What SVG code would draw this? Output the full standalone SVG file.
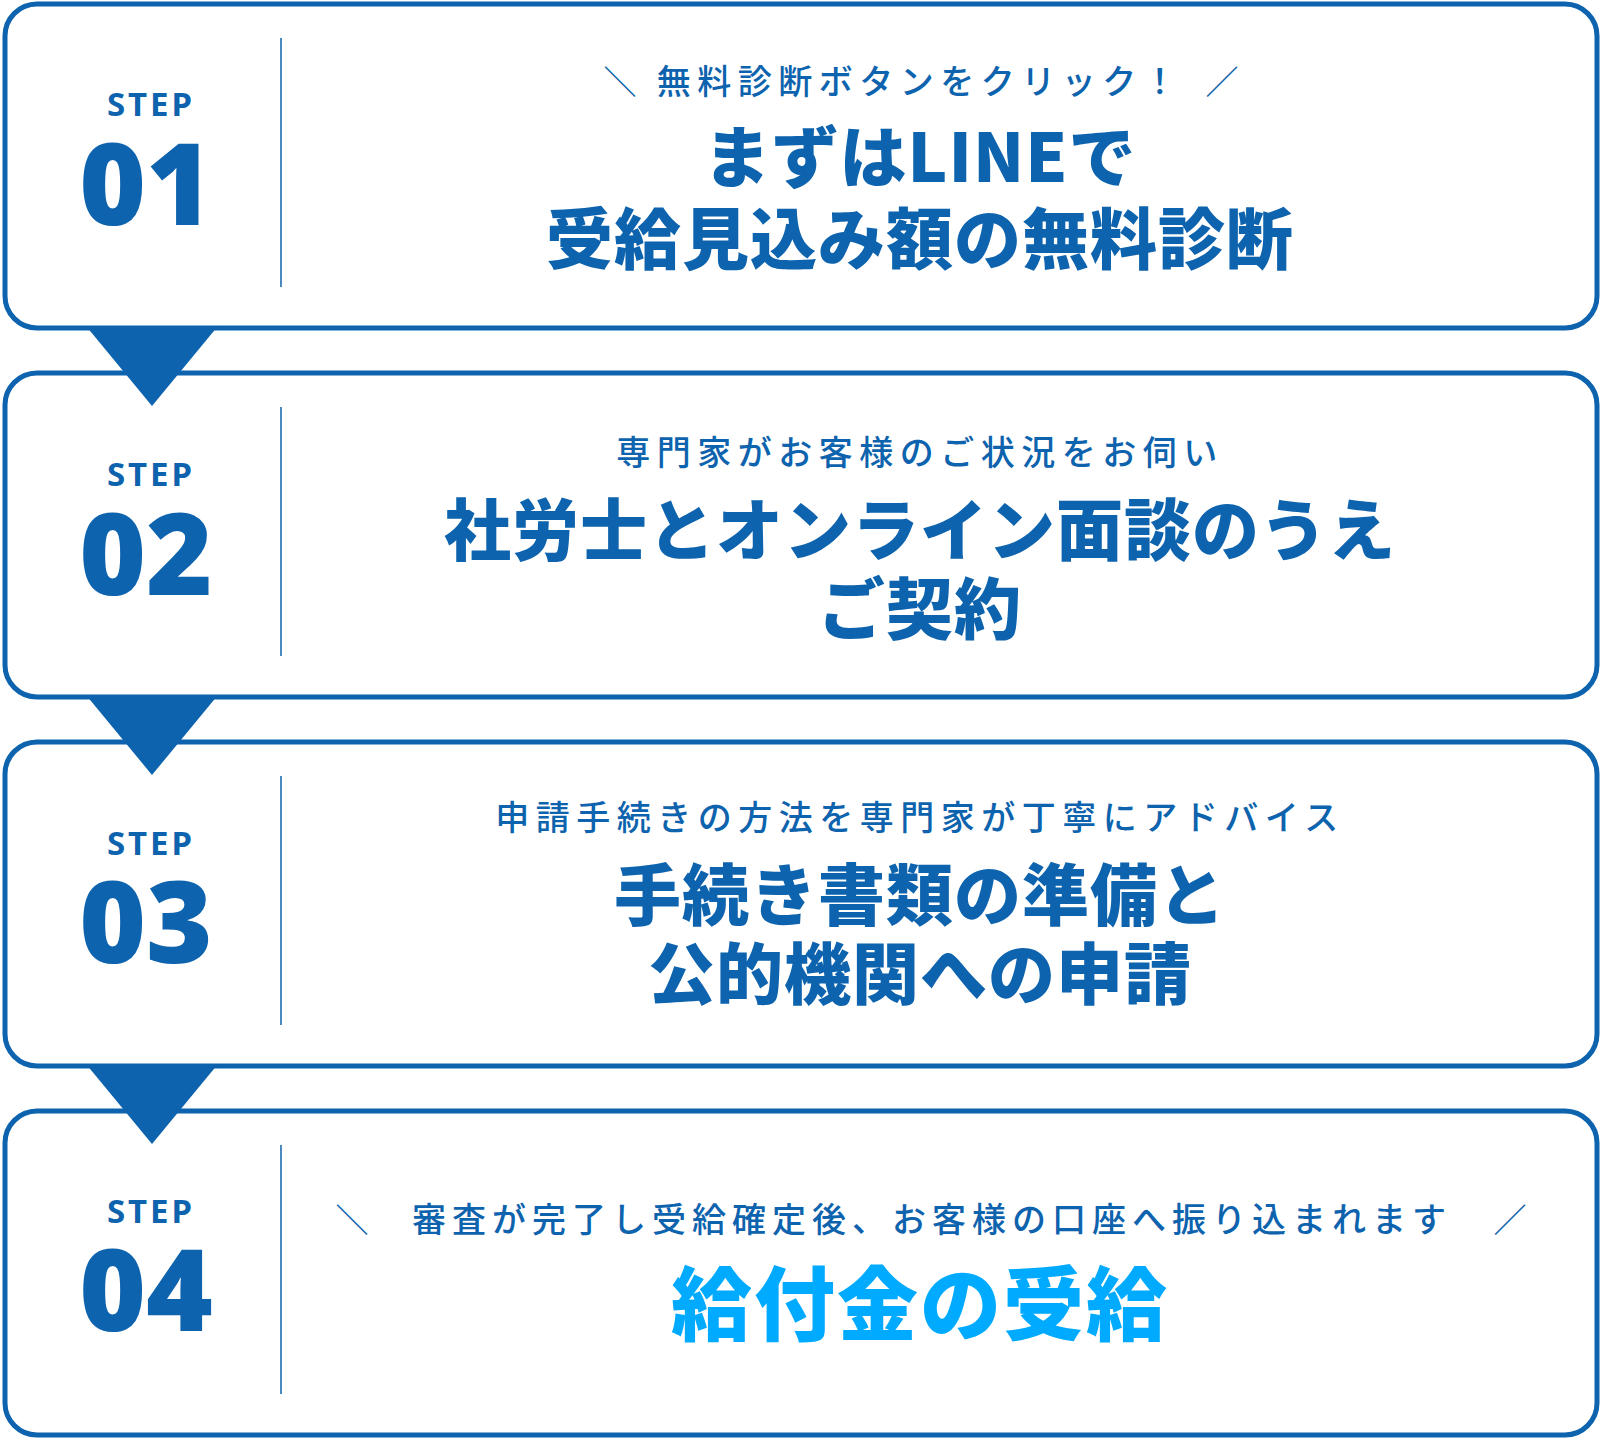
<svg xmlns="http://www.w3.org/2000/svg" width="1602" height="1441" viewBox="0 0 1602 1441">
<style>
.box{fill:#fff;stroke:#0D63AD;stroke-width:5}
.tri{fill:#0D63AD}
.div{stroke:#0D63AD;stroke-width:1.5}
.step{font-family:"Noto Sans","Liberation Sans",sans-serif;font-weight:700;font-size:33px;fill:#0D63AD;text-anchor:middle;letter-spacing:3px}
.num{font-family:"Noto Sans","Liberation Sans",sans-serif;font-weight:900;font-size:114px;fill:#0D63AD;text-anchor:middle}
.sub{font-family:"Noto Sans CJK JP",sans-serif;font-weight:500;font-size:34px;fill:#0D63AD;text-anchor:middle;letter-spacing:6.5px}
.sl{font-family:"Noto Sans CJK JP",sans-serif;font-weight:400;font-size:33px;fill:#0D63AD;text-anchor:middle}
.ttl{font-family:"Noto Sans CJK JP",sans-serif;font-weight:900;font-size:67px;fill:#0D63AD;text-anchor:middle;letter-spacing:1px}
.ttl4{font-family:"Noto Sans CJK JP",sans-serif;font-weight:900;font-size:81px;fill:#00AAFF;text-anchor:middle;letter-spacing:2px}
</style>
<rect width="1602" height="1441" fill="#fff"/>
<g id="step1">
<rect class="box" x="5" y="4" width="1592" height="324" rx="32"/>
<line class="div" x1="281" y1="38" x2="281" y2="287"/>
<text class="step" x="151" y="116">STEP</text>
<text class="num" x="146" y="225">01</text>
<text class="sl" x="620" y="94">＼</text>
<text class="sub" x="920" y="94">無料診断ボタンをクリック！</text>
<text class="sl" x="1222" y="94">／</text>
<text class="ttl" x="920" y="182">まずはLINEで</text>
<text class="ttl" x="920" y="264">受給見込み額の無料診断</text>
</g>
<g id="step2">
<rect class="box" x="5" y="373" width="1592" height="324" rx="32"/>
<line class="div" x1="281" y1="407" x2="281" y2="656"/>
<text class="step" x="151" y="486">STEP</text>
<text class="num" x="146" y="595">02</text>
<text class="sub" x="920" y="465">専門家がお客様のご状況をお伺い</text>
<text class="ttl" x="920" y="555">社労士とオンライン面談のうえ</text>
<text class="ttl" x="920" y="634">ご契約</text>
</g>
<g id="step3">
<rect class="box" x="5" y="742" width="1592" height="324" rx="32"/>
<line class="div" x1="281" y1="776" x2="281" y2="1025"/>
<text class="step" x="151" y="855">STEP</text>
<text class="num" x="146" y="963">03</text>
<text class="sub" x="920" y="830">申請手続きの方法を専門家が丁寧にアドバイス</text>
<text class="ttl" x="920" y="920">手続き書類の準備と</text>
<text class="ttl" x="920" y="999">公的機関への申請</text>
</g>
<g id="step4">
<rect class="box" x="5" y="1111" width="1592" height="324" rx="32"/>
<line class="div" x1="281" y1="1145" x2="281" y2="1394"/>
<text class="step" x="151" y="1223">STEP</text>
<text class="num" x="146" y="1331">04</text>
<text class="sl" x="352" y="1232">＼</text>
<text class="sub" x="932" y="1232" style="letter-spacing:6px">審査が完了し受給確定後、お客様の口座へ振り込まれます</text>
<text class="sl" x="1510" y="1232">／</text>
<text class="ttl4" x="920" y="1334">給付金の受給</text>
</g>
<g id="connectors">
<polygon class="tri" points="86,326 218,326 152,406"/>
<polygon class="tri" points="86,695 218,695 152,775"/>
<polygon class="tri" points="86,1064 218,1064 152,1144"/>
</g>
</svg>
